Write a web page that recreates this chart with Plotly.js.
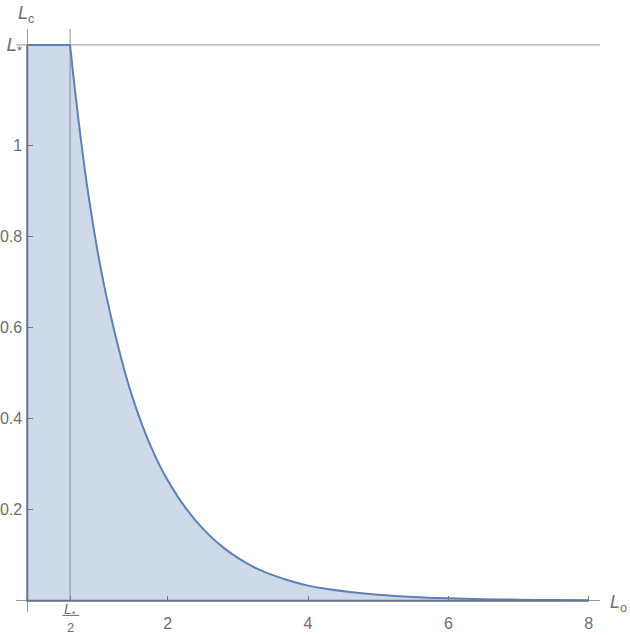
<!DOCTYPE html>
<html>
<head>
<meta charset="utf-8">
<script src="https://cdn.plot.ly/plotly-3.0.1.min.js"></script>
<style>
  html, body { margin: 0; padding: 0; background: #fff; }
  #plot { width: 630px; height: 635px; }
</style>
</head>
<body>
<div id="plot"></div>
<script>
// level L* (top of the region) and the boundary curve
const L_STAR = 1.222;
const curveLo = [0.61, 0.66, 0.71, 0.78, 0.85, 0.93, 1.0, 1.1, 1.2, 1.3, 1.4, 1.5, 1.6, 1.75, 1.9, 2.0,
  2.2, 2.4, 2.6, 2.8, 3.0, 3.25, 3.5, 3.75, 4.0, 4.3, 4.6, 5.0, 5.5, 6.0, 6.5, 7.0, 7.5, 8.0];
const curveLc = [1.222, 1.15, 1.083, 0.995, 0.915, 0.835, 0.77, 0.69, 0.62, 0.556, 0.498, 0.447, 0.402, 0.343, 0.293, 0.265,
  0.216, 0.176, 0.143, 0.116, 0.094, 0.072, 0.056, 0.043, 0.033, 0.025, 0.019, 0.013, 0.008, 0.005, 0.003, 0.002, 0.0012, 0.0007];

const xTickVals = [L_STAR / 2, 2, 4, 6, 8];
const xTickText = ['', '2', '4', '6', '8'];
const yTickVals = [0.2, 0.4, 0.6, 0.8, 1, L_STAR];
const yTickText = ['0.2', '0.4', '0.6', '0.8', '1', '<span style="font-size:19px"><i>L</i><sub>*</sub></span>'];

const X_RANGE = [-0.16, 8.16];
const Y_RANGE = [-0.025, 1.257];

const blue = '#5e81b5';
const gray = '#999999';
const labelGray = '#6e6e6e';
const font = 'Liberation Sans, Arial, sans-serif';

const xPaper = v => (v - X_RANGE[0]) / (X_RANGE[1] - X_RANGE[0]);
const yPaper = v => (v - Y_RANGE[0]) / (Y_RANGE[1] - Y_RANGE[0]);

// filled region under the curve
const traceRegion = {
  x: [0, ...curveLo],
  y: [L_STAR, ...curveLc],
  type: 'scatter',
  mode: 'none',
  fill: 'tozeroy',
  fillcolor: 'rgba(94, 129, 181, 0.3)',
  hoverinfo: 'skip'
};

const traceTop = {
  x: [0, curveLo[0]],
  y: [L_STAR, curveLc[0]],
  type: 'scatter',
  mode: 'lines',
  line: { color: blue, width: 2 },
  hoverinfo: 'skip'
};

const traceCurve = {
  x: curveLo,
  y: curveLc,
  type: 'scatter',
  mode: 'lines',
  line: { color: blue, width: 2, shape: 'spline', smoothing: 0.8 },
  hoverinfo: 'skip'
};

// left and bottom edges of the region, over the axes
const lastLo = curveLo[curveLo.length - 1];
const traceEdge = {
  x: [0, 0, lastLo],
  y: [L_STAR, 0, 0],
  type: 'scatter',
  mode: 'lines',
  line: { color: '#64758f', width: 2 },
  hoverinfo: 'skip'
};

// a copy of the x axis, lower down, only for the tick labels
const traceLabels = {
  x: [X_RANGE[0]], y: [0], xaxis: 'x2', yaxis: 'y',
  type: 'scatter', mode: 'none', hoverinfo: 'skip'
};

const layout = {
  width: 630,
  height: 635,
  margin: { l: 16, r: 30, t: 29, b: 23 },
  paper_bgcolor: '#fff',
  plot_bgcolor: '#fff',
  showlegend: false,
  font: { family: font, size: 16, color: labelGray },
  xaxis: {
    range: X_RANGE,
    anchor: 'free',
    position: yPaper(0),
    showgrid: false,
    showline: false,
    zeroline: true,
    zerolinecolor: gray,
    zerolinewidth: 1,
    tickmode: 'array',
    tickvals: xTickVals,
    ticktext: xTickText,
    showticklabels: false,
    ticks: 'inside',
    ticklen: 5,
    tickwidth: 1,
    tickcolor: '#777'
  },
  xaxis2: {
    range: X_RANGE,
    overlaying: 'x',
    anchor: 'free',
    position: 0,
    showgrid: false,
    showline: false,
    zeroline: false,
    tickmode: 'array',
    tickvals: xTickVals,
    ticktext: xTickText,
    ticks: '',
    tickfont: { family: font, size: 16, color: labelGray }
  },
  yaxis: {
    range: Y_RANGE,
    anchor: 'free',
    position: xPaper(0),
    showgrid: false,
    showline: false,
    zeroline: true,
    zerolinecolor: gray,
    zerolinewidth: 1,
    tickmode: 'array',
    tickvals: yTickVals,
    ticktext: yTickText,
    ticks: 'inside',
    ticklen: 5,
    tickwidth: 1,
    tickcolor: '#777',
    ticklabelstandoff: 5,
    tickfont: { family: font, size: 16, color: labelGray }
  },
  shapes: [
    {
      type: 'line', layer: 'below', xref: 'paper', yref: 'y',
      x0: 0, x1: 1, y0: L_STAR, y1: L_STAR,
      line: { color: '#aaaaaa', width: 1.3 }
    },
    {
      type: 'line', layer: 'below', xref: 'x', yref: 'paper',
      x0: L_STAR / 2, x1: L_STAR / 2, y0: yPaper(0), y1: 1,
      line: { color: '#aaaaaa', width: 1.3 }
    },
    {
      // fraction bar of the L*/2 label
      type: 'line', xref: 'paper', yref: 'paper',
      x0: xPaper(L_STAR / 2 - 0.11), x1: xPaper(L_STAR / 2 + 0.13),
      y0: yPaper(-0.0325), y1: yPaper(-0.0325),
      line: { color: labelGray, width: 1 }
    }
  ],
  annotations: [
    {
      x: xPaper(-0.02), y: yPaper(1.289), xref: 'paper', yref: 'paper', showarrow: false,
      text: '<i>L</i><sub>c</sub>', xanchor: 'center', yanchor: 'middle',
      font: { family: font, size: 18, color: labelGray }
    },
    {
      x: xPaper(8.43), y: yPaper(-0.006), xref: 'paper', yref: 'paper', showarrow: false,
      text: '<i>L</i><sub>o</sub>', xanchor: 'center', yanchor: 'middle',
      font: { family: font, size: 18, color: labelGray }
    },
    {
      x: xPaper(L_STAR / 2), y: yPaper(-0.02), xref: 'paper', yref: 'paper', showarrow: false,
      text: '<i>L</i><sub>*</sub>', xanchor: 'center', yanchor: 'middle',
      font: { family: font, size: 14, color: labelGray }
    },
    {
      x: xPaper(L_STAR / 2), y: yPaper(-0.058), xref: 'paper', yref: 'paper', showarrow: false,
      text: '2', xanchor: 'center', yanchor: 'middle',
      font: { family: font, size: 13, color: labelGray }
    }
  ]
};

Plotly.newPlot('plot', [traceRegion, traceTop, traceCurve, traceEdge, traceLabels], layout,
  { staticPlot: true, displayModeBar: false });
</script>
</body>
</html>
